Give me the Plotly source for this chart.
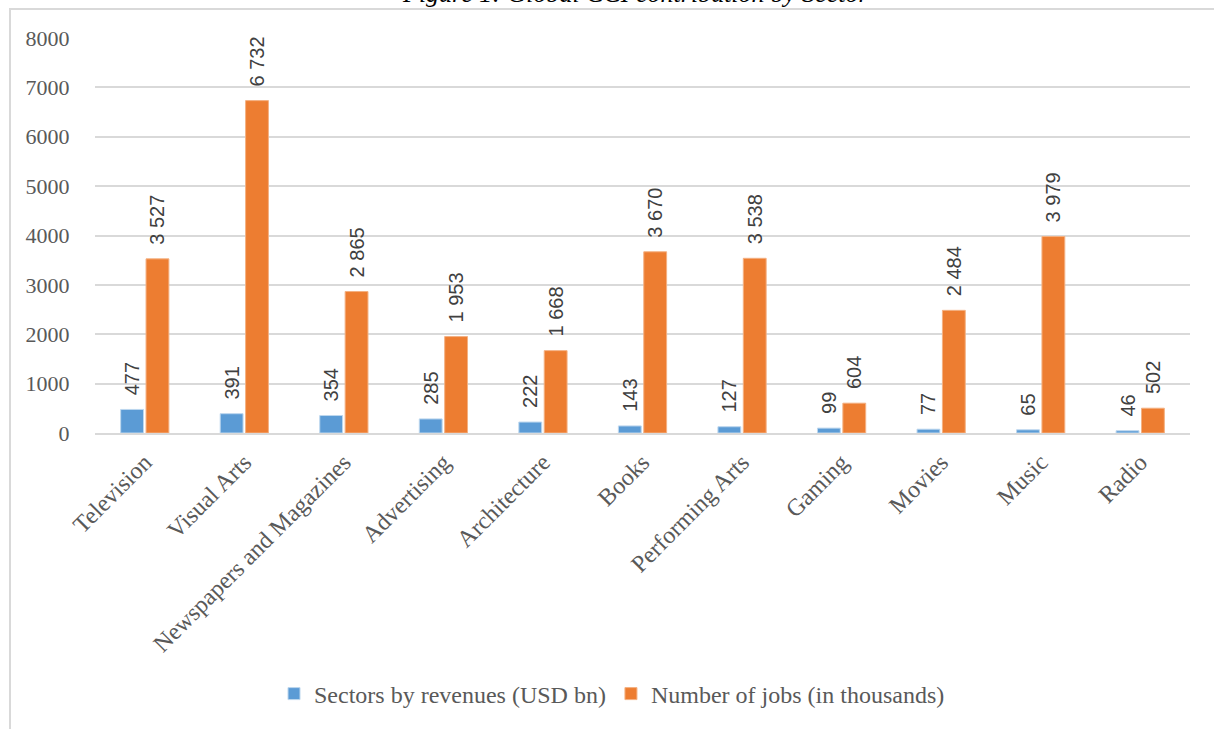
import plotly.graph_objects as go

categories = ["Television", "Visual Arts", "Newspapers and Magazines", "Advertising",
              "Architecture", "Books", "Performing Arts", "Gaming", "Movies", "Music", "Radio"]
revenues = [477, 391, 354, 285, 222, 143, 127, 99, 77, 65, 46]
jobs = [3527, 6732, 2865, 1953, 1668, 3670, 3538, 604, 2484, 3979, 502]
y_ticks = [0, 1000, 2000, 3000, 4000, 5000, 6000, 7000, 8000]

def fmt(v):
    # leading no-break spaces lift the rotated label off the bar top
    return "\u00a0\u00a0" + f"{v:,}".replace(",", " ")

W, H = 1214, 729
L, R, T, B = 95, 24, 38, 296
pw, ph = W - L - R, H - T - B

def px_to_paper_x(x):
    return (x - L) / pw

def px_to_paper_y(y):
    return (H - B - y) / ph

label_font = dict(family="Liberation Sans", size=20, color="#404040")

fig = go.Figure()
fig.add_trace(go.Bar(
    x=categories, y=revenues, name="Sectors by revenues (USD bn)",
    marker=dict(color="#5B9BD5", line=dict(color="#BDD7EE", width=1)),
    text=[fmt(v) for v in revenues], textposition="outside", textangle=-90,
    textfont=label_font, cliponaxis=False, constraintext="none",
))
fig.add_trace(go.Bar(
    x=categories, y=jobs, name="Number of jobs (in thousands)",
    marker=dict(color="#ED7D31", line=dict(color="#F4B183", width=1)),
    text=[fmt(v) for v in jobs], textposition="outside", textangle=-90,
    textfont=label_font, cliponaxis=False, constraintext="none",
))

fig.update_layout(
    width=W, height=H,
    margin=dict(l=L, r=R, t=T, b=B, pad=0),
    paper_bgcolor="white", plot_bgcolor="white",
    barmode="group", bargap=0.49, bargroupgap=0.1,
    font=dict(family="Liberation Serif", color="#595959"),
    showlegend=True,
    legend=dict(orientation="h", x=px_to_paper_x(612), xanchor="center",
                y=px_to_paper_y(694), yanchor="middle",
                font=dict(family="Liberation Serif", size=24, color="#595959"),
                itemwidth=30, traceorder="normal"),
    xaxis=dict(tickangle=-45, tickfont=dict(family="Liberation Serif", size=24, color="#595959"),
               showgrid=False, showline=True, linecolor="#D9D9D9", linewidth=1.5,
               ticks="outside", ticklen=4, tickcolor="white", automargin=False),
    yaxis=dict(range=[0, 8000], tickvals=y_ticks, ticktext=[str(v) for v in y_ticks],
               tickfont=dict(family="Liberation Serif", size=22, color="#595959"),
               showgrid=True, gridcolor="#D9D9D9", gridwidth=1.5,
               zeroline=False, showline=False, ticks="outside", ticklen=20,
               tickcolor="white", automargin=False),
    shapes=[dict(type="rect", xref="paper", yref="paper",
                 x0=px_to_paper_x(10), x1=px_to_paper_x(1260),
                 y0=px_to_paper_y(800), y1=px_to_paper_y(9),
                 line=dict(color="#D9D9D9", width=2), fillcolor="rgba(0,0,0,0)",
                 layer="below")],
    annotations=[dict(text="<i>Figure 1: Global CCI contribution by Sector</i>",
                      xref="paper", yref="paper",
                      x=px_to_paper_x(635), y=px_to_paper_y(10),
                      xanchor="center", yanchor="bottom", showarrow=False,
                      font=dict(family="Liberation Serif", size=26, color="#000000"))],
)

fig.write_html("out.html", config={"displayModeBar": False},
               post_script="document.body.style.margin='0';")
